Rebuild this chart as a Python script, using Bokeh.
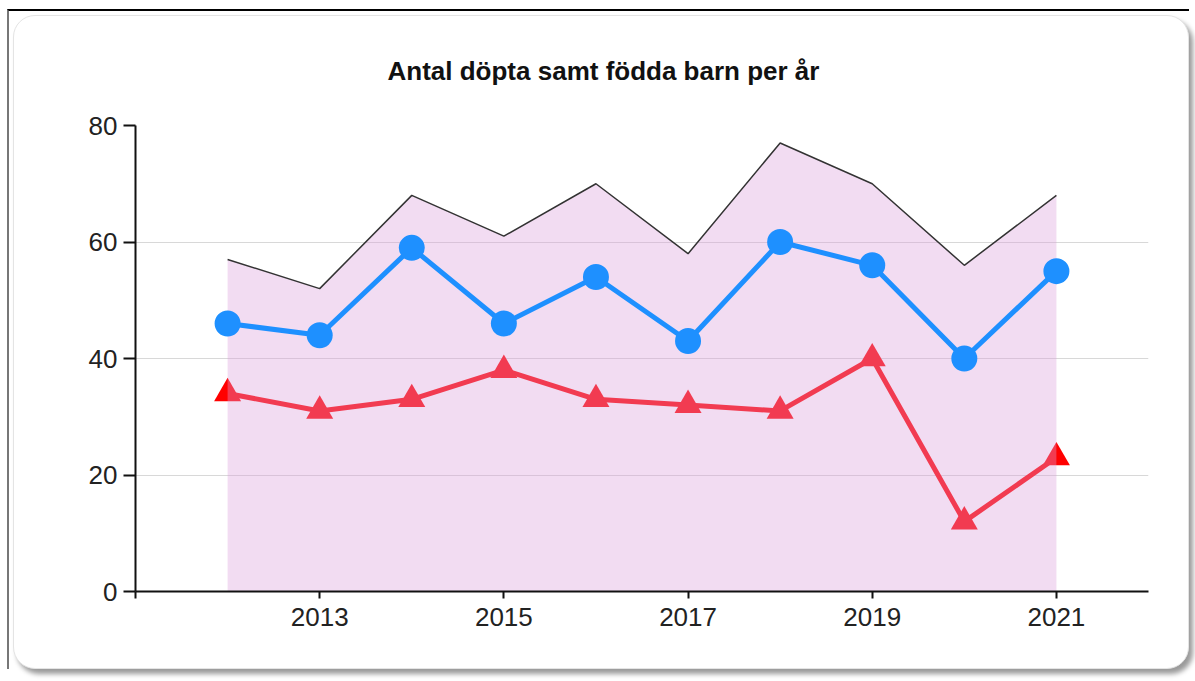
from bokeh.plotting import figure
from bokeh.models import FixedTicker, Range1d, ColumnDataSource
from bokeh.layouts import column
from bokeh.embed import file_html
from bokeh.resources import INLINE

years = [2012, 2013, 2014, 2015, 2016, 2017, 2018, 2019, 2020, 2021]
born = [57, 52, 68, 61, 70, 58, 77, 70, 56, 68]
baptised = [46, 44, 59, 46, 54, 43, 60, 56, 40, 55]
other = [34, 31, 33, 38, 33, 32, 31, 40, 12, 23]
x_ticks = [2011, 2013, 2015, 2017, 2019, 2021]
y_ticks = [0, 20, 40, 60, 80]

src = ColumnDataSource(dict(x=years, born=born, bap=baptised, oth=other, zero=[0] * len(years)))

FONT = "Liberation Sans"

p = figure(width=1176, height=654, output_backend="svg", toolbar_location=None,
           x_range=Range1d(2011, 2022), y_range=Range1d(0, 80),
           title="Antal döpta samt födda barn per år",
           min_border_left=121, min_border_right=42, min_border_top=109, min_border_bottom=79)
p.border_fill_color = None
p.background_fill_color = None
p.outline_line_color = None
p.styles = {"border-radius": "22px", "box-shadow": "4px 5px 5px #9a9a9a",
            "border": "1px solid #e4e4e4", "background-color": "white",
            "margin-top": "4px", "margin-left": "4px"}

p.title.text_font = FONT
p.title.text_font_size = "26px"
p.title.text_font_style = "bold"
p.title.text_color = "#111111"
p.title.align = "left"
p.title.offset = 252
p.title.vertical_align = "top"
p.title.standoff = 76

p.xgrid.visible = False
p.ygrid.grid_line_color = "#d8d8d8"
p.ygrid.grid_line_width = 1
p.ygrid.ticker = FixedTicker(ticks=[20, 40, 60, 80])

p.xaxis.ticker = FixedTicker(ticks=x_ticks)
p.xaxis.major_label_overrides = {2011: ""}
p.yaxis.ticker = FixedTicker(ticks=y_ticks)
for ax in (p.xaxis, p.yaxis):
    ax.axis_line_color = "#111111"
    ax.axis_line_width = 2
    ax.major_tick_line_color = "#111111"
    ax.major_tick_line_width = 2
    ax.major_tick_in = 0
    ax.minor_tick_line_color = None
    ax.major_label_text_font = FONT
    ax.major_label_text_font_size = "26px"
    ax.major_label_text_color = "#222222"
p.xaxis.major_tick_out = 7
p.xaxis.major_label_standoff = 9
p.yaxis.major_tick_out = 12
p.yaxis.major_label_standoff = 6

# red series (under the area)
p.line("x", "oth", source=src, line_color="#ff0000", line_width=5)
p.scatter("x", "oth", source=src, marker="triangle", size=27, fill_color="#ff0000", line_color=None)

# area of born children
p.varea(x="x", y1="zero", y2="born", source=src, fill_color="plum", fill_alpha=0.37)
p.line("x", "born", source=src, line_color="#333333", line_width=1.5)

# blue series
p.line("x", "bap", source=src, line_color="#1e90ff", line_width=5)
p.scatter("x", "bap", source=src, marker="circle", size=26, fill_color="#1e90ff", line_color=None)

layout = column(p, styles={"border-top": "2px solid #000000", "border-left": "2px solid #777777",
                           "margin-top": "9px", "margin-left": "7px"})

open("out.html", "w").write(file_html(layout, INLINE))
